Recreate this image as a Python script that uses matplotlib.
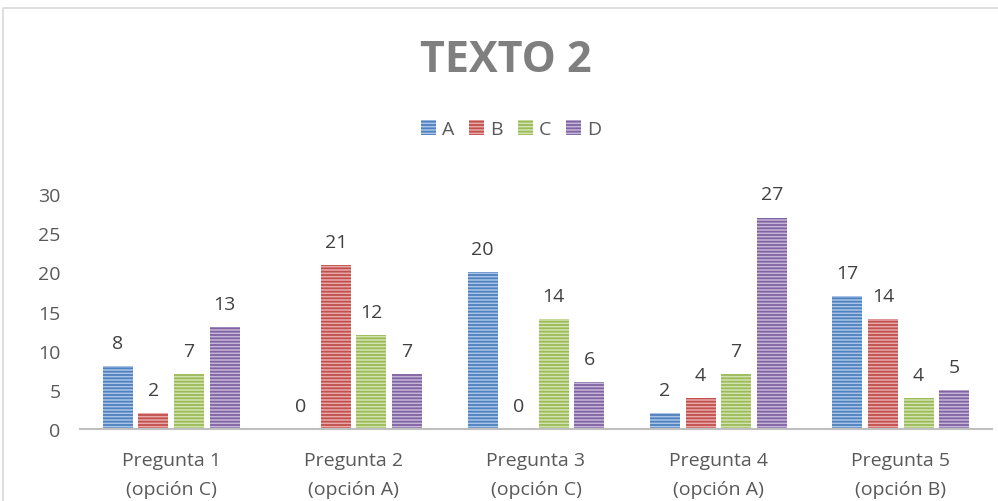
import matplotlib
matplotlib.use("Agg")
import matplotlib.pyplot as plt
import numpy as np
from matplotlib.patches import Rectangle

categories = ["Pregunta 1\n(opción C)", "Pregunta 2\n(opción A)", "Pregunta 3\n(opción C)",
              "Pregunta 4\n(opción A)", "Pregunta 5\n(opción B)"]
series_names = ["A", "B", "C", "D"]
values_a = [8, 0, 20, 2, 17]
values_b = [2, 21, 0, 4, 14]
values_c = [7, 12, 14, 7, 4]
values_d = [13, 7, 6, 27, 5]
y_ticks = [0, 5, 10, 15, 20, 25, 30]

# (light face, dark stripe) per series
colors = [("#a9c4e8", "#4f81bd"), ("#e8a9a8", "#c0504d"),
          ("#d2e3b0", "#9bbb59"), ("#c4b5d9", "#8064a2")]

plt.rcParams["font.family"] = ["Open Sans", "DejaVu Sans"]
plt.rcParams["hatch.linewidth"] = 1.3

fig = plt.figure(figsize=(9.98, 5.02), dpi=100)
ax = fig.add_axes([80 / 998, 72 / 502, 912 / 998, 235 / 502])

x = np.arange(len(categories))
width = 0.164
step = 0.195
all_values = [values_a, values_b, values_c, values_d]
handles = []
for i, (name, vals) in enumerate(zip(series_names, all_values)):
    face, dark = colors[i]
    bars = ax.bar(x + (i - 1.5) * step, vals, width, facecolor=face, edgecolor=dark,
                  linewidth=0, hatch="-----", label=name)
    handles.append(bars)
    for xi, v in zip(x + (i - 1.5) * step, vals):
        ax.annotate(str(v), (xi, v), xytext=(0, 18), textcoords="offset pixels",
                    ha="center", va="baseline", fontsize=14, color="#404040")

ax.set_xlim(-0.5, len(categories) - 0.5)
ax.set_ylim(0, 30)
ax.set_yticks(y_ticks)
ax.set_xticks(x)
ax.set_xticklabels(categories, linespacing=1.8)
ax.tick_params(axis="both", length=0, labelsize=14, labelcolor="#595959")
ax.tick_params(axis="y", pad=14)
ax.tick_params(axis="x", pad=16)
for s in ["top", "right", "left"]:
    ax.spines[s].set_visible(False)
ax.spines["bottom"].set_color("#bfbfbf")
ax.spines["bottom"].set_linewidth(1.5)

fig.text(0.507, 1 - 60 / 502, "TEXTO 2", ha="center", va="center", fontsize=31,
         fontweight="bold", color="#7f7f7f")

fig.legend(handles=handles, loc="center", bbox_to_anchor=(0.512, 1 - 130 / 502), ncol=4,
           frameon=False, fontsize=14, handlelength=0.75, handleheight=0.8,
           handletextpad=0.3, columnspacing=0.8, labelcolor="#595959")

# chart frame
fig.patches.append(Rectangle((3 / 998, -0.1), 1.1, 1 - 9 / 502 + 0.1, transform=fig.transFigure,
                             fill=False, edgecolor="#d9d9d9", linewidth=1.2))

fig.savefig("out.png", dpi=100)
